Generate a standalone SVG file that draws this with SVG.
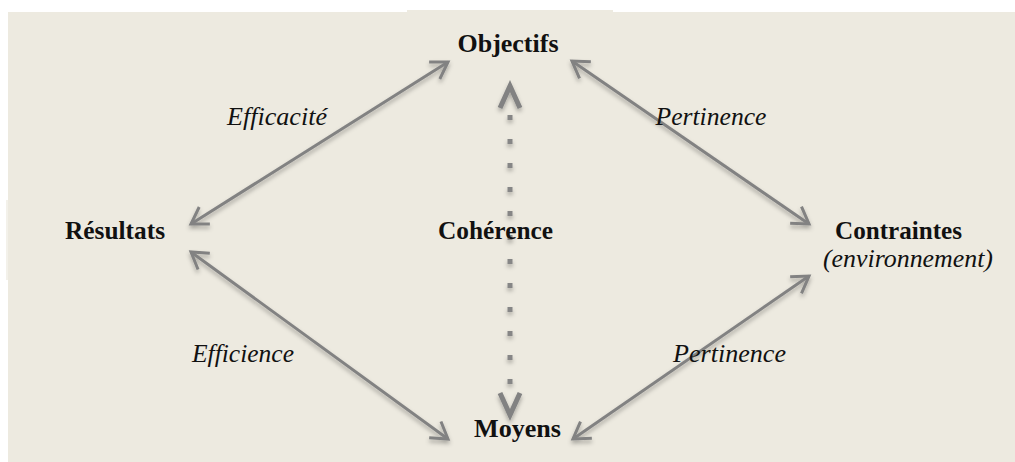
<svg xmlns="http://www.w3.org/2000/svg" width="1015" height="462" viewBox="0 0 1015 462">
  <style>
    .node { font-family: "Liberation Serif", "Times New Roman", serif; font-weight: bold; font-size: 25px; fill: #111; }
    .lbl { font-family: "Liberation Serif", "Times New Roman", serif; font-style: italic; font-size: 25px; fill: #111; }
    .conn { stroke: #828282; stroke-width: 3; fill: none; }
    .dots { stroke: #868686; stroke-width: 5; fill: none; stroke-dasharray: 5 19; }
    .chev { stroke: #828282; stroke-width: 5; fill: none; stroke-linejoin: miter; stroke-linecap: butt; }
  </style>
  <defs>
    <filter id="shadow" x="-20%" y="-20%" width="140%" height="140%">
      <feDropShadow dx="0" dy="3" stdDeviation="2" flood-color="#000" flood-opacity="0.3"/>
    </filter>
    <marker id="arr" markerUnits="userSpaceOnUse" markerWidth="40" markerHeight="40" viewBox="-20 -20 40 40" refX="0" refY="0" orient="auto-start-reverse">
      <path d="M-16,-10 L0,0 L-16,10" fill="none" stroke="#828282" stroke-width="3" stroke-linejoin="miter"/>
    </marker>
  </defs>

  <rect x="0" y="0" width="1015" height="462" fill="#ffffff"/>
  <rect x="8" y="12" width="1007" height="450" fill="#EDEAE0"/>
  <rect x="407" y="10" width="206" height="4" fill="#EDEAE0"/>
  <rect x="6" y="200" width="2" height="80" fill="#F3F1EA"/>

  <g id="connectors" filter="url(#shadow)">
    <line class="conn" x1="191" y1="224" x2="448" y2="62" marker-start="url(#arr)" marker-end="url(#arr)"/>
    <line class="conn" x1="572" y1="61" x2="809" y2="224" marker-start="url(#arr)" marker-end="url(#arr)"/>
    <line class="conn" x1="191" y1="252" x2="448" y2="439" marker-start="url(#arr)" marker-end="url(#arr)"/>
    <line class="conn" x1="573" y1="439" x2="809" y2="276" marker-start="url(#arr)" marker-end="url(#arr)"/>
    <line class="dots" x1="510" y1="115" x2="510" y2="386"/>
    <path class="chev" d="M500,108 L510,86 L520,108"/>
    <path class="chev" d="M500,393 L510,415 L520,393"/>
  </g>

  <g id="objectifs"><text class="node" x="508" y="52" text-anchor="middle" textLength="101" lengthAdjust="spacingAndGlyphs">Objectifs</text></g>
  <g id="resultats"><text class="node" x="115" y="239" text-anchor="middle" textLength="100" lengthAdjust="spacingAndGlyphs">Résultats</text></g>
  <g id="coherence"><text class="node" x="495.5" y="239" text-anchor="middle" textLength="115" lengthAdjust="spacingAndGlyphs">Cohérence</text></g>
  <g id="moyens"><text class="node" x="517.5" y="437" text-anchor="middle" textLength="87" lengthAdjust="spacingAndGlyphs">Moyens</text></g>
  <g id="contraintes">
    <text class="node" x="898.5" y="239" text-anchor="middle" textLength="127" lengthAdjust="spacingAndGlyphs">Contraintes</text>
    <text class="lbl" x="908" y="267" text-anchor="middle" textLength="170" lengthAdjust="spacingAndGlyphs">(environnement)</text>
  </g>
  <g id="labels">
    <text class="lbl" x="277" y="125" text-anchor="middle" textLength="100" lengthAdjust="spacingAndGlyphs">Efficacité</text>
    <text class="lbl" x="711" y="125" text-anchor="middle" textLength="111" lengthAdjust="spacingAndGlyphs">Pertinence</text>
    <text class="lbl" x="243" y="362" text-anchor="middle" textLength="102" lengthAdjust="spacingAndGlyphs">Efficience</text>
    <text class="lbl" x="729.5" y="362" text-anchor="middle" textLength="113" lengthAdjust="spacingAndGlyphs">Pertinence</text>
  </g>
</svg>
